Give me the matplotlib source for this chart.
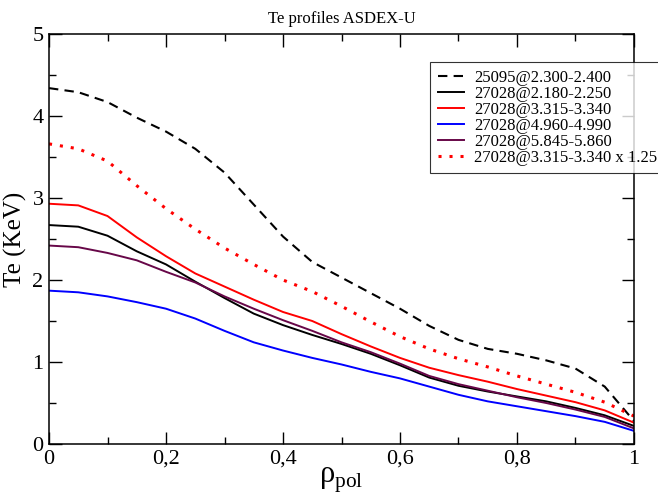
import matplotlib
matplotlib.use("Agg")
import matplotlib.pyplot as plt

# rho_pol grid and Te profiles (keV)
rho = [0.0, 0.05, 0.1, 0.15, 0.2, 0.25, 0.3, 0.35, 0.4, 0.45, 0.5,
       0.55, 0.6, 0.65, 0.7, 0.75, 0.8, 0.85, 0.9, 0.95, 1.0]

te_25095_a = [4.34, 4.29, 4.17, 3.98, 3.81, 3.60, 3.31, 2.92, 2.53, 2.22, 2.03,
              1.84, 1.65, 1.44, 1.27, 1.16, 1.10, 1.02, 0.92, 0.70, 0.28]
te_27028_a = [2.67, 2.65, 2.54, 2.35, 2.19, 1.98, 1.78, 1.59, 1.45, 1.33, 1.22,
              1.10, 0.96, 0.81, 0.71, 0.64, 0.58, 0.52, 0.44, 0.35, 0.22]
te_27028_b = [2.93, 2.91, 2.78, 2.52, 2.29, 2.08, 1.92, 1.76, 1.61, 1.50, 1.34,
              1.19, 1.05, 0.93, 0.84, 0.76, 0.67, 0.59, 0.51, 0.41, 0.26]
te_27028_c = [1.87, 1.85, 1.80, 1.73, 1.65, 1.53, 1.38, 1.24, 1.14, 1.05, 0.97,
              0.88, 0.80, 0.70, 0.60, 0.52, 0.46, 0.40, 0.34, 0.27, 0.16]
te_27028_d = [2.42, 2.40, 2.33, 2.24, 2.10, 1.97, 1.80, 1.65, 1.51, 1.38, 1.24,
              1.12, 0.98, 0.83, 0.73, 0.65, 0.57, 0.50, 0.42, 0.33, 0.19]
te_27028_b_scaled = [3.66, 3.60, 3.45, 3.15, 2.87, 2.62, 2.39, 2.19, 2.00, 1.86, 1.68,
                     1.49, 1.31, 1.16, 1.04, 0.94, 0.83, 0.73, 0.63, 0.51, 0.34]

labels = ["25095@2.300-2.400", "27028@2.180-2.250", "27028@3.315-3.340",
          "27028@4.960-4.990", "27028@5.845-5.860", "27028@3.315-3.340 x 1.25"]

x_ticks = [0, 0.2, 0.4, 0.6, 0.8, 1.0]
x_ticklabels = ["0", "0,2", "0,4", "0,6", "0,8", "1"]
y_ticks = [0, 1, 2, 3, 4, 5]
y_ticklabels = ["0", "1", "2", "3", "4", "5"]

plt.rcParams["font.family"] = ["Liberation Serif", "DejaVu Serif"]
plt.rcParams["mathtext.fontset"] = "custom"
plt.rcParams["mathtext.rm"] = "Liberation Serif"

fig = plt.figure(figsize=(6.58, 5.0), dpi=100)
ax = fig.add_axes([0.0745, 0.112, 0.889, 0.82])

ax.plot(rho, te_25095_a, color="black", lw=1.5, linestyle=(0, (4.5, 3)), label=labels[0])
ax.plot(rho, te_27028_a, color="black", lw=1.4, label=labels[1])
ax.plot(rho, te_27028_b, color="#ff0000", lw=1.4, label=labels[2])
ax.plot(rho, te_27028_c, color="#0000ff", lw=1.4, label=labels[3])
ax.plot(rho, te_27028_d, color="#670748", lw=1.4, label=labels[4])
ax.plot(rho, te_27028_b_scaled, color="#ff0000", lw=2.2, linestyle=(0, (1, 2.6)),
        label=labels[5])

ax.set_xlim(0, 1)
ax.set_ylim(0, 5)
ax.set_xticks(x_ticks)
ax.set_xticklabels(x_ticklabels)
ax.set_yticks(y_ticks)
ax.set_yticklabels(y_ticklabels)
ax.set_xticks([0.1, 0.3, 0.5, 0.7, 0.9], minor=True)
ax.set_yticks([0.5, 1.5, 2.5, 3.5, 4.5], minor=True)
ax.tick_params(which="both", direction="in", top=True, right=True, width=1.0,
               labelsize=16, pad=4)
ax.tick_params(which="major", length=9)
ax.tick_params(which="minor", length=5)
for s in ax.spines.values():
    s.set_linewidth(1.1)

ax.set_title("Te profiles ASDEX-U", fontsize=12, pad=8)
ax.set_ylabel("Te (KeV)", fontsize=18, labelpad=4)
ax.set_xlabel("ρ$_{\\rm pol}$", fontsize=22, labelpad=-2)

leg = ax.legend(loc="upper left", bbox_to_anchor=(430 / 658, 1 - 62 / 500),
                bbox_transform=fig.transFigure, fontsize=12, frameon=True,
                fancybox=False, shadow=False, borderpad=0.45, labelspacing=0.0,
                handlelength=1.6, handletextpad=0.6, borderaxespad=0)
leg.get_frame().set_edgecolor("black")
leg.get_frame().set_linewidth(0.8)
leg.set_zorder(10)

fig.savefig("out.png", dpi=100)
